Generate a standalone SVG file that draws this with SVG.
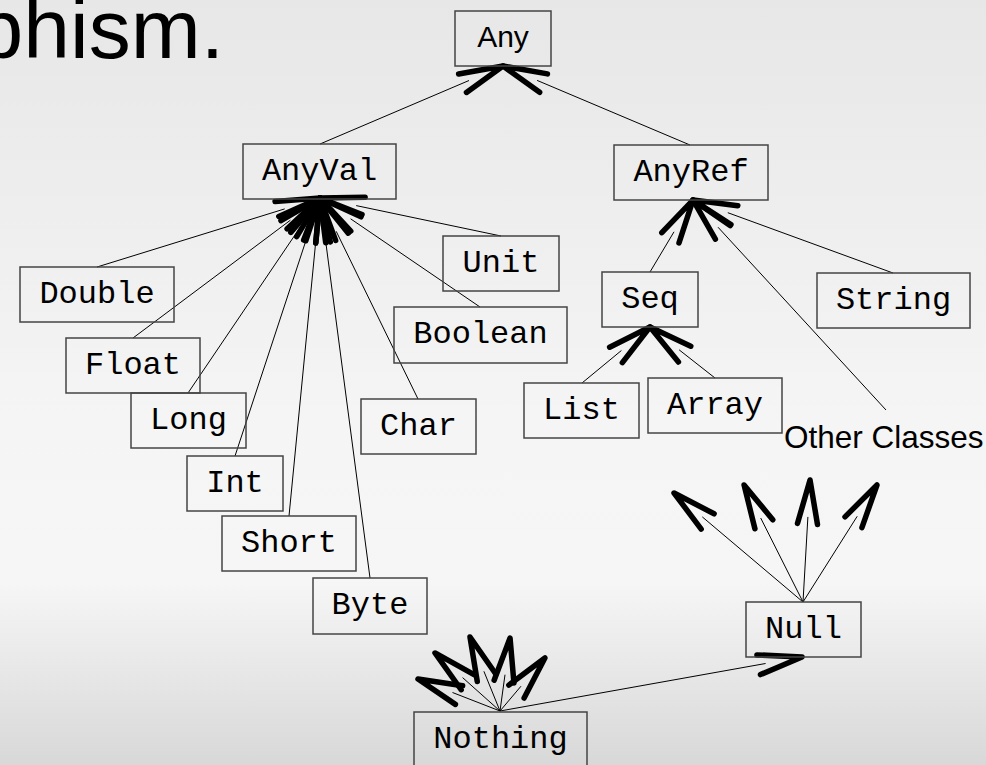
<svg xmlns="http://www.w3.org/2000/svg" width="986" height="765" viewBox="0 0 986 765">
<defs>
<linearGradient id="bg" x1="0" y1="0" x2="0" y2="1">
<stop offset="0" stop-color="#e7e7e7"/>
<stop offset="0.55" stop-color="#f5f5f5"/>
<stop offset="0.76" stop-color="#f6f6f6"/>
<stop offset="1" stop-color="#d8d8d8"/>
</linearGradient>
<marker id="ah" markerUnits="userSpaceOnUse" orient="auto" refX="0" refY="0" markerWidth="80" markerHeight="60" viewBox="-20 -30 80 60" overflow="visible">
<path d="M-7,-10 L37,0 L-7,10" fill="none" stroke="#000" stroke-width="5.5" stroke-linecap="round" stroke-linejoin="round"/>
</marker>
<style>
.box{fill:none;stroke:#444;stroke-width:1.5}
.m{font-family:"Liberation Mono","DejaVu Sans Mono",monospace;font-size:32px;fill:#000;text-anchor:middle}
.s{font-family:"Liberation Sans",Arial,sans-serif;fill:#000}
.c{stroke:#000;stroke-width:1;fill:none;marker-end:url(#ah)}
</style>
</defs>
<rect x="0" y="0" width="986" height="765" fill="url(#bg)"/>
<text class="s" x="224" y="58" font-size="84" text-anchor="end">phism.</text>

<g id="connectors">
<line class="c" x1="320" y1="144" x2="469.0" y2="80.5"/>
<line class="c" x1="690" y1="145" x2="537.1" y2="80.4"/>
<line class="c" x1="97" y1="267" x2="284.7" y2="208.9"/>
<line class="c" x1="133" y1="338" x2="290.4" y2="220.2"/>
<line class="c" x1="188" y1="393" x2="299.3" y2="228.6"/>
<line class="c" x1="235" y1="456" x2="308.4" y2="233.1"/>
<line class="c" x1="289" y1="516" x2="316.4" y2="234.8"/>
<line class="c" x1="370" y1="578" x2="324.8" y2="234.7"/>
<line class="c" x1="418" y1="399" x2="336.2" y2="231.3"/>
<line class="c" x1="480" y1="307" x2="350.6" y2="218.8"/>
<line class="c" x1="501" y1="236" x2="356.2" y2="205.6"/>
<line class="c" x1="650" y1="272" x2="674.0" y2="231.8"/>
<line class="c" x1="893" y1="273" x2="727.8" y2="212.7"/>
<line class="c" x1="886" y1="410" x2="718.0" y2="227.2"/>
<line class="c" x1="582" y1="383" x2="621.4" y2="350.5"/>
<line class="c" x1="715" y1="378" x2="679.1" y2="349.8"/>
<line class="c" x1="803" y1="602" x2="702.3" y2="516.9"/>
<line class="c" x1="803" y1="602" x2="760.7" y2="518.0"/>
<line class="c" x1="803" y1="602" x2="807.9" y2="516.9"/>
<line class="c" x1="803" y1="602" x2="857.2" y2="516.3"/>
<line class="c" x1="500" y1="711" x2="765.6" y2="663.5"/>
<line class="c" x1="500" y1="711" x2="452.5" y2="692.5"/>
<line class="c" x1="500" y1="711" x2="462.6" y2="677.6"/>
<line class="c" x1="500" y1="711" x2="483.9" y2="671.3"/>
<line class="c" x1="500" y1="711" x2="505.0" y2="674.7"/>
<line class="c" x1="500" y1="711" x2="521.0" y2="686.2"/>
</g>

<g id="any"><rect class="box" x="455" y="11" width="96" height="55"/><text class="s" x="503" y="47" font-size="30" text-anchor="middle">Any</text></g>
<g id="anyval"><rect class="box" x="243" y="144" width="153" height="55"/><text class="m" x="319.5" y="180">AnyVal</text></g>
<g id="anyref"><rect class="box" x="614" y="145" width="154" height="55"/><text class="m" x="691" y="181">AnyRef</text></g>
<g id="double"><rect class="box" x="20" y="267" width="154" height="55"/><text class="m" x="97" y="303">Double</text></g>
<g id="float"><rect class="box" x="66" y="338" width="134" height="55"/><text class="m" x="133" y="374">Float</text></g>
<g id="long"><rect class="box" x="131" y="393" width="115" height="55"/><text class="m" x="188.5" y="429">Long</text></g>
<g id="int"><rect class="box" x="187" y="456" width="96" height="55"/><text class="m" x="235" y="492">Int</text></g>
<g id="short"><rect class="box" x="222" y="516" width="134" height="55"/><text class="m" x="289" y="552">Short</text></g>
<g id="byte"><rect class="box" x="313" y="578" width="114" height="56"/><text class="m" x="370" y="614">Byte</text></g>
<g id="unit"><rect class="box" x="443" y="236" width="116" height="55"/><text class="m" x="501" y="272">Unit</text></g>
<g id="boolean"><rect class="box" x="394" y="307" width="173" height="56"/><text class="m" x="480.5" y="343">Boolean</text></g>
<g id="char"><rect class="box" x="361" y="399" width="115" height="55"/><text class="m" x="418.5" y="435">Char</text></g>
<g id="seq"><rect class="box" x="602" y="272" width="96" height="55"/><text class="m" x="650" y="308">Seq</text></g>
<g id="string"><rect class="box" x="817" y="273" width="153" height="55"/><text class="m" x="893.5" y="309">String</text></g>
<g id="list"><rect class="box" x="524" y="383" width="115" height="55"/><text class="m" x="581.5" y="419">List</text></g>
<g id="array"><rect class="box" x="648" y="378" width="134" height="55"/><text class="m" x="715" y="414">Array</text></g>
<g id="otherclasses"><text class="s" x="784" y="448" font-size="31.5">Other Classes</text></g>
<g id="null"><rect class="box" x="746" y="602" width="115" height="55"/><text class="m" x="803.5" y="638">Null</text></g>
<g id="nothing"><rect class="box" x="414" y="712" width="173" height="60"/><text class="m" x="500.5" y="748">Nothing</text></g>
</svg>
